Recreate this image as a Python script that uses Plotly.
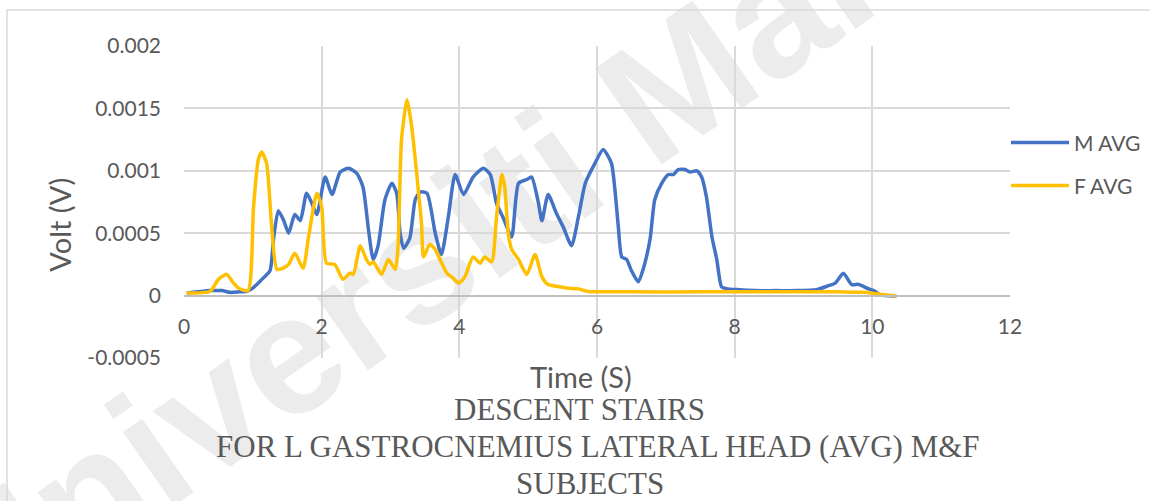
import plotly.graph_objects as go

# ---- data ----
m_time = [0.04, 0.2, 0.38, 0.55, 0.67, 0.8, 0.91, 1.0, 1.15, 1.25, 1.3, 1.37, 1.45, 1.52, 1.61, 1.69,
          1.78, 1.85, 1.93, 2.05, 2.15, 2.27, 2.39, 2.51, 2.6, 2.68, 2.75, 2.82, 2.92, 3.02, 3.09,
          3.14, 3.19, 3.28, 3.36, 3.43, 3.53, 3.65, 3.74, 3.84, 3.94, 4.06, 4.2, 4.35, 4.45, 4.54,
          4.64, 4.76, 4.86, 4.98, 5.05, 5.15, 5.2, 5.29, 5.41, 5.51, 5.63, 5.73, 5.83, 5.97, 6.09,
          6.21, 6.26, 6.31, 6.36, 6.43, 6.5, 6.6, 6.67, 6.77, 6.84, 6.94, 7.04, 7.11, 7.18, 7.28,
          7.35, 7.45, 7.52, 7.59, 7.67, 7.74, 7.81, 7.88, 8.03, 8.3, 8.6, 8.9, 9.19, 9.34, 9.46,
          9.58, 9.7, 9.8, 9.92, 10.02, 10.11, 10.35]
m_avg = [0.00002, 0.00003, 0.00004, 0.00004, 0.000026, 0.00003, 0.000035, 0.00006, 0.00014, 0.0002,
         0.00045, 0.00068, 0.0006, 0.0005, 0.00065, 0.0006, 0.00082, 0.00075, 0.00065, 0.00095,
         0.00081, 0.00099, 0.00102, 0.00098, 0.00087, 0.00053, 0.00029, 0.0004, 0.00077, 0.0009,
         0.00082, 0.0005, 0.00038, 0.00046, 0.00077, 0.00083, 0.00082, 0.0005, 0.00033, 0.00063,
         0.00097, 0.00081, 0.00095, 0.00102, 0.00097, 0.00074, 0.00062, 0.00047, 0.0009, 0.00093,
         0.00095, 0.00074, 0.0006, 0.00081, 0.00066, 0.00055, 0.0004, 0.00063, 0.0009, 0.00106,
         0.00117, 0.00106, 0.00085, 0.00055, 0.00031, 0.00029, 0.0002, 0.00011, 0.00021, 0.00045,
         0.00077, 0.0009, 0.00097, 0.00097, 0.00101, 0.00101, 0.00099, 0.001, 0.00095, 0.00079,
         0.00047, 0.00029, 0.00007, 0.000056, 0.000048, 0.00004, 0.00004, 0.00004, 0.000048,
         0.000075, 0.0001, 0.00018, 0.000088, 0.00009, 0.00006, 0.00004, 0.000008, -0.000005]

f_time = [0.04, 0.38, 0.5, 0.62, 0.72, 0.79, 0.93, 1.01, 1.08, 1.13, 1.2, 1.27, 1.35, 1.44, 1.52,
          1.61, 1.73, 1.81, 1.93, 2.0, 2.07, 2.19, 2.31, 2.41, 2.46, 2.56, 2.65, 2.7, 2.75, 2.87,
          2.97, 3.07, 3.11, 3.16, 3.24, 3.28, 3.33, 3.38, 3.45, 3.48, 3.57, 3.65, 3.72, 3.82, 3.91,
          3.99, 4.08, 4.2, 4.3, 4.37, 4.47, 4.54, 4.62, 4.66, 4.71, 4.76, 4.86, 4.98, 5.1, 5.2,
          5.29, 5.41, 5.56, 5.73, 5.85, 6.5, 7.5, 8.5, 9.5, 9.9, 10.02, 10.35]
f_avg = [0.00002, 0.000035, 0.00013, 0.00017, 0.0001, 0.00006, 0.00004, 0.00071, 0.00109, 0.00115,
         0.00106, 0.00058, 0.00021, 0.00022, 0.00025, 0.00034, 0.00022, 0.00047, 0.00082, 0.00071,
         0.00026, 0.00025, 0.00013, 0.00018, 0.00017, 0.0004, 0.00029, 0.00025, 0.00027, 0.00017,
         0.00029, 0.00021, 0.0004, 0.00125, 0.00157, 0.00146, 0.00125, 0.00098, 0.00058, 0.00031,
         0.00041, 0.00037, 0.00029, 0.00018, 0.00014, 0.0001, 0.00015, 0.00031, 0.00026, 0.00031,
         0.00027, 0.00063, 0.00097, 0.00087, 0.0005, 0.00037, 0.00029, 0.00017, 0.00033, 0.00015,
         0.000088, 0.000075, 0.00006, 0.000054, 0.000035, 0.00003, 0.00003, 0.00003, 0.00003,
         0.000027, 0.000016, -0.000005]

series_names = ["M AVG", "F AVG"]
y_tickvals = [-0.0005, 0, 0.0005, 0.001, 0.0015, 0.002]
y_ticktext = ["-0.0005", "0", "0.0005", "0.001", "0.0015", "0.002"]
x_tickvals = [0, 2, 4, 6, 8, 10, 12]
x_ticktext = ["0", "2", "4", "6", "8", "10", "12"]
title_lines = ["DESCENT STAIRS", "FOR L GASTROCNEMIUS LATERAL HEAD (AVG) M&F", "SUBJECTS"]
watermark_text = "Universiti Malaya"

GRAY = "#595959"
GRID = "#d9d9d9"
TICKFONT = dict(family="Lato", size=21, color=GRAY)

# plot-area pixel geometry helpers (plot area spans x 184..1010, y 46..358.5)
PX_L, PX_R, PY_T, PY_B = 184, 1010, 46, 358.5
def px_x(px):
    return (px - PX_L) / (PX_R - PX_L)
def px_y(py):
    return (PY_B - py) / (PY_B - PY_T)

fig = go.Figure()
fig.add_trace(go.Scatter(x=m_time, y=m_avg, mode="lines", name=series_names[0],
                         line=dict(color="#4472C4", width=3.5, shape="spline", smoothing=0.6),
                         legend="legend"))
fig.add_trace(go.Scatter(x=f_time, y=f_avg, mode="lines", name=series_names[1],
                         line=dict(color="#FFC000", width=3.5, shape="spline", smoothing=0.6),
                         legend="legend2"))

legend_common = dict(font=dict(family="Lato", size=21, color=GRAY), bgcolor="rgba(0,0,0,0)",
                     borderwidth=0, itemwidth=58, xanchor="left", yanchor="middle")

fig.update_layout(
    width=1150, height=501,
    margin=dict(l=PX_L, r=1150 - PX_R, t=PY_T, b=501 - PY_B, pad=0, autoexpand=False),
    paper_bgcolor="white", plot_bgcolor="white",
    showlegend=True,
    legend=dict(x=px_x(1006), y=px_y(143), **legend_common),
    legend2=dict(x=px_x(1006), y=px_y(186), **legend_common),
    xaxis=dict(range=[0, 12], tickvals=x_tickvals, ticktext=x_ticktext, showgrid=True,
               gridcolor=GRID, gridwidth=1.5, zeroline=False, anchor="free", position=0.2,
               showline=True, linecolor="#bfbfbf", linewidth=1.5, ticks="",
               tickfont=TICKFONT, ticklabelstandoff=12),
    yaxis=dict(range=[-0.0005, 0.002], tickvals=y_tickvals, ticktext=y_ticktext, showgrid=True,
               gridcolor=GRID, gridwidth=1.5, zeroline=False, showline=False, ticks="",
               tickfont=TICKFONT, ticklabelstandoff=22),
)

# faint diagonal watermark behind everything
cx, cy = px_x(505), px_y(183)
fig.add_shape(type="rect", xref="paper", yref="paper", x0=cx - 0.005, x1=cx + 0.005,
              y0=cy - 0.005, y1=cy + 0.005, line=dict(width=0), fillcolor="rgba(0,0,0,0)",
              layer="below",
              label=dict(text=watermark_text, textangle=-35, textposition="middle center",
                         font=dict(family="Liberation Sans", size=170, color="#ececec",
                                   weight="bold")))

# outer chart border
fig.add_shape(type="rect", xref="paper", yref="paper", x0=px_x(7), y0=px_y(520), x1=px_x(1170),
              y1=px_y(10), line=dict(color=GRID, width=1.5), fillcolor="rgba(0,0,0,0)", layer="below")

# axis titles
fig.add_annotation(text="Time (S)", xref="paper", yref="paper", x=px_x(581), y=px_y(377),
                   showarrow=False, font=dict(family="Lato", size=29, color=GRAY),
                   xanchor="center", yanchor="middle")
fig.add_annotation(text="Volt (V)", xref="paper", yref="paper", x=px_x(60), y=px_y(225),
                   textangle=-90, showarrow=False, font=dict(family="Lato", size=29, color=GRAY),
                   xanchor="center", yanchor="middle")

# chart title (below plot)
title_x_px = [579, 598, 590]
title_y_px = [410, 447, 484]
for line, tx, ty in zip(title_lines, title_x_px, title_y_px):
    fig.add_annotation(text=line, xref="paper", yref="paper", x=px_x(tx), y=px_y(ty),
                       showarrow=False, font=dict(family="Liberation Serif", size=31, color=GRAY),
                       xanchor="center", yanchor="middle")

fig.write_html("out.html")
